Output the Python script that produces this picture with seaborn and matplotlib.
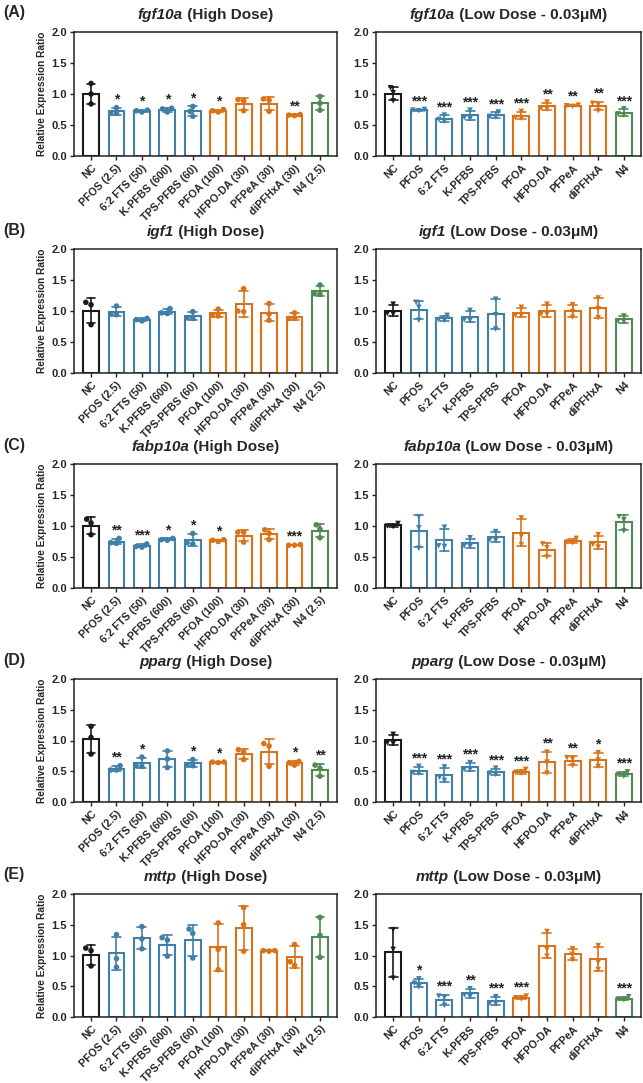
import numpy as np
import pandas as pd
import matplotlib
matplotlib.use("Agg")
import matplotlib.pyplot as plt
import seaborn as sns

sns.set_style("ticks")
plt.rcParams["font.family"] = ["Liberation Sans", "DejaVu Sans"]
plt.rcParams["font.weight"] = "bold"
plt.rcParams["axes.labelweight"] = "bold"

# ---------------- data ----------------
compounds = ["NC", "PFOS", "6:2 FTS", "K-PFBS", "TPS-PFBS",
             "PFOA", "HFPO-DA", "PFPeA", "diPFHxA", "N4"]
high_labels = ["NC", "PFOS (2.5)", "6:2 FTS (50)", "K-PFBS (600)", "TPS-PFBS (60)",
               "PFOA (100)", "HFPO-DA (30)", "PFPeA (30)", "diPFHxA (30)", "N4 (2.5)"]
low_labels = compounds

fgf10a_high = [[1.17, 1.00, 0.84], [0.78, 0.69, 0.69], [0.71, 0.73, 0.74], [0.77, 0.71, 0.76],
               [0.80, 0.72, 0.64], [0.73, 0.75, 0.71], [0.91, 0.89, 0.73], [0.92, 0.90, 0.72],
               [0.65, 0.66, 0.67], [0.96, 0.85, 0.74]]
fgf10a_high_sig = ["", "*", "*", "*", "*", "*", "", "", "**", ""]
fgf10a_low = [[1.10, 1.02, 0.89], [0.73, 0.75, 0.74], [0.66, 0.59, 0.56], [0.74, 0.62, 0.60],
              [0.71, 0.64, 0.63], [0.72, 0.62, 0.61], [0.87, 0.77, 0.76], [0.81, 0.80, 0.82],
              [0.85, 0.83, 0.73], [0.76, 0.68, 0.66]]
fgf10a_low_sig = ["", "***", "***", "***", "***", "***", "**", "**", "**", "***"]

igf1_high = [[1.14, 1.10, 0.78], [1.08, 0.94, 0.95], [0.84, 0.86, 0.88], [1.04, 0.97, 0.96],
             [0.99, 0.89, 0.88], [1.03, 0.93, 0.92], [1.36, 1.00, 0.99], [1.12, 0.95, 0.85],
             [0.97, 0.88, 0.88], [1.42, 1.28, 1.27]]
igf1_high_sig = [""] * 10
igf1_low = [[1.11, 0.96, 0.95], [1.14, 1.06, 0.85], [0.93, 0.86, 0.85], [1.01, 0.86, 0.85],
            [1.19, 0.94, 0.71], [1.06, 0.93, 0.93], [1.11, 0.95, 0.95], [1.10, 0.99, 0.90],
            [1.21, 1.04, 0.89], [0.92, 0.84, 0.83]]
igf1_low_sig = [""] * 10

fabp10a_high = [[1.11, 1.05, 0.86], [0.80, 0.73, 0.72], [0.71, 0.67, 0.66], [0.77, 0.80, 0.78],
                [0.88, 0.73, 0.71], [0.77, 0.78, 0.75], [0.90, 0.90, 0.74], [0.94, 0.88, 0.78],
                [0.69, 0.69, 0.70], [1.02, 0.95, 0.81]]
fabp10a_high_sig = ["", "**", "***", "*", "*", "*", "", "", "***", ""]
fabp10a_low = [[1.04, 1.00, 0.99], [1.15, 0.97, 0.64], [0.98, 0.68, 0.67], [0.81, 0.68, 0.67],
               [0.91, 0.78, 0.77], [1.13, 0.84, 0.70], [0.71, 0.65, 0.50], [0.80, 0.74, 0.73],
               [0.86, 0.70, 0.66], [1.15, 1.10, 0.92]]
fabp10a_low_sig = [""] * 10

pparg_high = [[1.23, 1.05, 0.78], [0.59, 0.52, 0.52], [0.73, 0.59, 0.58], [0.83, 0.70, 0.56],
              [0.69, 0.60, 0.59], [0.65, 0.65, 0.64], [0.85, 0.81, 0.69], [0.95, 0.91, 0.58],
              [0.60, 0.66, 0.64], [0.60, 0.55, 0.42]]
pparg_high_sig = ["", "**", "*", "", "*", "*", "", "", "*", "**"]
pparg_low = [[1.10, 0.95, 0.96], [0.58, 0.48, 0.47], [0.57, 0.40, 0.35], [0.64, 0.53, 0.53],
             [0.55, 0.47, 0.45], [0.53, 0.48, 0.47], [0.81, 0.65, 0.47], [0.72, 0.70, 0.59],
             [0.80, 0.68, 0.58], [0.49, 0.45, 0.42]]
pparg_low_sig = ["", "***", "***", "***", "***", "***", "**", "**", "*", "***"]

mttp_high = [[1.12, 1.08, 0.83], [1.34, 0.95, 0.81], [1.47, 1.27, 1.11], [1.29, 1.25, 0.99],
             [1.43, 1.36, 0.96], [1.53, 1.10, 0.77], [1.78, 1.50, 1.07], [1.07, 1.08, 1.08],
             [1.18, 0.90, 0.84], [1.62, 1.33, 0.97]]
mttp_high_sig = [""] * 10
mttp_low = [[1.42, 1.10, 0.63], [0.62, 0.55, 0.49], [0.34, 0.32, 0.19], [0.46, 0.36, 0.33],
            [0.33, 0.23, 0.22], [0.34, 0.31, 0.29], [1.39, 1.10, 0.99], [1.11, 1.02, 0.93],
            [1.16, 0.89, 0.77], [0.33, 0.29, 0.28]]
mttp_low_sig = ["", "*", "***", "**", "***", "***", "", "", "", "***"]

genes = ["fgf10a", "igf1", "fabp10a", "pparg", "mttp"]
panel_letters = ["(A)", "(B)", "(C)", "(D)", "(E)"]
high_data = [fgf10a_high, igf1_high, fabp10a_high, pparg_high, mttp_high]
high_sigs = [fgf10a_high_sig, igf1_high_sig, fabp10a_high_sig, pparg_high_sig, mttp_high_sig]
low_data = [fgf10a_low, igf1_low, fabp10a_low, pparg_low, mttp_low]
low_sigs = [fgf10a_low_sig, igf1_low_sig, fabp10a_low_sig, pparg_low_sig, mttp_low_sig]

# ---------------- style ----------------
BLACK = "#1a1a1a"
BLUE = "#3f7fa8"
ORANGE = "#d9731a"
GREEN = "#4f8a52"
palette = dict(zip(compounds, [BLACK] + [BLUE] * 4 + [ORANGE] * 4 + [GREEN]))

W, H = 643, 1083
fig = plt.figure(figsize=(W / 100, H / 100), dpi=100)

col_x = [(74, 337), (376, 641)]
row_y = [(32, 156), (249, 373), (464, 588), (679, 802), (894, 1017)]


def make_df(reps):
    rows = []
    for c, vals in zip(compounds, reps):
        for v in vals:
            rows.append({"compound": c, "value": v})
    return pd.DataFrame(rows)


title_pairs = []

for r in range(5):
    for c in range(2):
        x0, x1 = col_x[c]
        yt, yb = row_y[r]
        ax = fig.add_axes([x0 / W, 1 - yb / H, (x1 - x0) / W, (yb - yt) / H])
        reps = high_data[r] if c == 0 else low_data[r]
        sigs = high_sigs[r] if c == 0 else low_sigs[r]
        df = make_df(reps)
        sns.barplot(data=df, x="compound", y="value", hue="compound", order=compounds,
                    hue_order=compounds, palette=palette, errorbar="sd", capsize=0.35,
                    fill=False, linewidth=1.5, width=0.62, legend=False,
                    err_kws={"linewidth": 1.2}, ax=ax)
        sns.swarmplot(data=df, x="compound", y="value", hue="compound", order=compounds,
                      hue_order=compounds, palette=palette, marker="o" if c == 0 else "v",
                      size=4.0, linewidth=0, legend=False, ax=ax, zorder=5)
        # significance stars
        g = df.groupby("compound", sort=False)["value"]
        means = g.mean().reindex(compounds).values
        sds = g.std().reindex(compounds).values
        for i, s in enumerate(sigs):
            if s:
                ax.text(i, means[i] + sds[i] + 0.07, s, ha="center", va="baseline",
                        fontsize=10, fontweight="bold", color="#222222")
        ax.set_xlim(-0.67, 9.67)
        ax.set_ylim(0, 2.0)
        ax.set_yticks([0, 0.5, 1.0, 1.5, 2.0])
        ax.set_yticklabels(["0.0", "0.5", "1.0", "1.5", "2.0"], fontsize=8, fontweight="bold")
        ax.set_xticks(range(10))
        ax.set_xticklabels(high_labels if c == 0 else low_labels, rotation=45, ha="right",
                           rotation_mode="anchor", fontsize=7.7, fontweight="bold")
        ax.set_xlabel("")
        if c == 0:
            ax.set_ylabel("Relative Expression Ratio", fontsize=7.3, fontweight="bold", labelpad=3)
        else:
            ax.set_ylabel("")
        for sp in ax.spines.values():
            sp.set_visible(True)
            sp.set_linewidth(1.1)
            sp.set_color("#222222")
        ax.tick_params(axis="both", length=3, width=1.0, pad=2, color="#222222")
        # title with italic gene name
        suffix = " (High Dose)" if c == 0 else " (Low Dose - 0.03\u03bcM)"
        t1 = ax.text(0.5, 1.0 + 13 / (yb - yt), genes[r], transform=ax.transAxes,
                     fontsize=11, fontweight="bold", style="italic", ha="left", va="baseline")
        t2 = ax.annotate(suffix, xy=(1, 0), xycoords=t1, fontsize=11, fontweight="bold",
                         ha="left", va="bottom")
        title_pairs.append((ax, t1, t2))

    fig.text(3 / W, 1 - (row_y[r][0] - 19) / H, panel_letters[r], fontsize=11.5,
             fontweight="bold", ha="left", va="center")

# center the composite titles
fig.canvas.draw()
renderer = fig.canvas.get_renderer()
for ax, t1, t2 in title_pairs:
    w1 = t1.get_window_extent(renderer).width
    w2 = t2.get_window_extent(renderer).width
    axw = ax.get_window_extent(renderer).width
    x, y = t1.get_position()
    t1.set_position((0.5 - (w1 + w2) / 2 / axw, y))

fig.savefig("out.png", dpi=100)
